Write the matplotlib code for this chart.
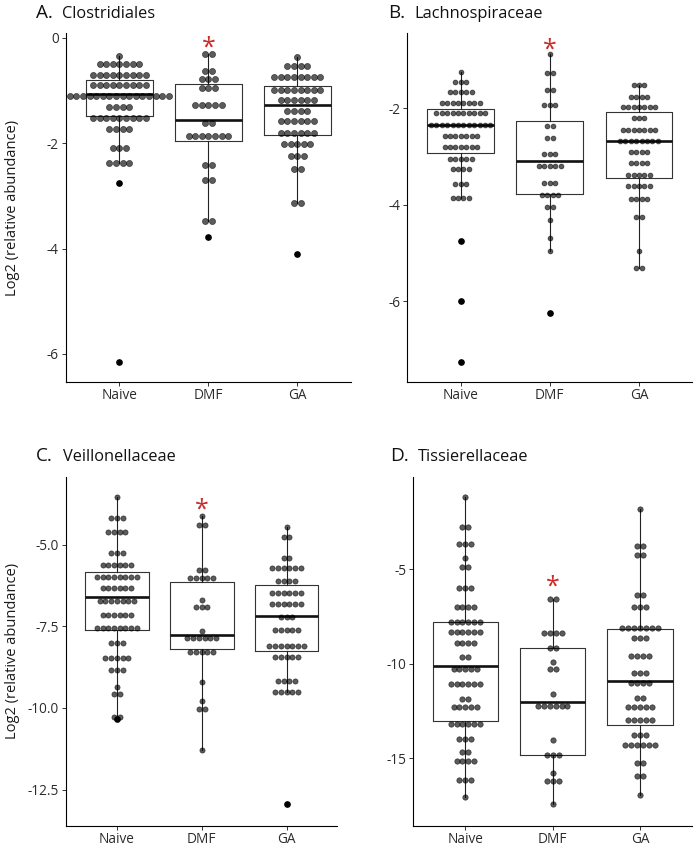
import matplotlib
matplotlib.use('Agg')
import matplotlib.pyplot as plt

plt.rcParams['font.family'] = ['Open Sans', 'DejaVu Sans']
plt.rcParams['axes.unicode_minus'] = False

W, H, DPI = 695, 847, 100
groups = ['Naive', 'DMF', 'GA']

# ---------------- Panel A: Clostridiales ----------------
A_naive_y = [-0.347, -0.49, -0.708, -0.90, -1.097, -1.319, -1.522, -1.742, -2.102, -2.372]
A_naive_n = [1, 7, 9, 9, 16, 4, 9, 4, 3, 4]
A_dmf_y = [-0.315, -0.626, -0.78, -0.96, -1.277, -1.62, -1.87, -2.415, -2.695, -3.48]
A_dmf_n = [2, 2, 3, 3, 5, 2, 7, 2, 2, 2]
A_ga_y = [-0.36, -0.53, -0.75, -1.00, -1.18, -1.39, -1.59, -1.80, -2.02, -2.25, -2.50, -3.13]
A_ga_n = [1, 4, 8, 8, 6, 4, 6, 6, 5, 3, 2, 2]
A_q1 = [-1.48, -1.96, -1.846]
A_med = [-1.06, -1.565, -1.285]
A_q3 = [-0.803, -0.879, -0.917]
A_lo = [-2.372, -3.48, -3.13]
A_hi = [-0.347, -0.315, -0.36]
A_out = [[-2.757, -6.154], [-3.78], [-4.10]]

# ---------------- Panel B: Lachnospiraceae ----------------
B_naive_y = [-1.247, -1.454, -1.662, -1.896, -2.104, -2.340, -2.581, -2.809, -3.052, -3.266, -3.577, -3.861]
B_naive_n = [1, 3, 5, 8, 10, 12, 7, 7, 5, 4, 3, 4]
B_dmf_y = [-0.873, -1.274, -1.620, -1.938, -2.361, -2.622, -2.954, -3.197, -3.556, -3.793, -4.054, -4.317, -4.697, -4.954]
B_dmf_n = [1, 2, 2, 3, 2, 2, 3, 5, 3, 4, 2, 1, 1, 1]
B_ga_y = [-1.523, -1.759, -1.979, -2.195, -2.450, -2.678, -2.900, -3.129, -3.390, -3.606, -3.882, -4.249, -4.954, -5.320]
B_ga_n = [3, 4, 7, 3, 7, 8, 4, 4, 5, 5, 4, 2, 1, 2]
B_q1 = [-2.934, -3.78, -3.45]
B_med = [-2.34, -3.10, -2.685]
B_q3 = [-2.021, -2.263, -2.083]
B_lo = [-3.861, -4.954, -5.320]
B_hi = [-1.247, -0.873, -1.523]
B_out = [[-4.755, -5.995, -7.261], [-6.241], []]

# ---------------- Panel C: Veillonellaceae ----------------
C_naive_y = [-3.529, -4.191, -4.611, -5.245, -5.631, -5.990, -6.317, -6.716, -7.163, -7.537, -8.021, -8.480, -8.830, -9.350, -9.574, -10.270]
C_naive_n = [1, 3, 4, 3, 6, 8, 6, 7, 6, 8, 3, 5, 3, 1, 2, 2]
C_dmf_y = [-4.130, -4.387, -5.775, -6.029, -6.694, -6.899, -7.635, -7.868, -8.278, -9.197, -9.779, -10.043, -11.281]
C_dmf_n = [1, 2, 2, 5, 1, 3, 1, 6, 5, 1, 1, 2, 1]
C_ga_y = [-4.467, -4.755, -5.398, -5.714, -6.112, -6.480, -6.817, -7.206, -7.613, -8.094, -8.431, -9.185, -9.513]
C_ga_n = [1, 2, 2, 6, 4, 6, 6, 3, 5, 7, 5, 4, 5]
C_q1 = [-7.613, -8.19, -8.26]
C_med = [-6.59, -7.76, -7.175]
C_q3 = [-5.827, -6.13, -6.24]
C_lo = [-10.270, -11.281, -9.513]
C_hi = [-3.529, -4.130, -4.467]
C_out = [[-10.349], [], [-12.953]]

# ---------------- Panel D: Tissierellaceae ----------------
D_naive_y = [-1.159, -2.762, -3.646, -4.402, -4.878, -5.989, -6.979, -7.815, -8.317, -8.884, -9.624, -10.275,
             -11.085, -11.878, -12.286, -13.185, -13.963, -14.667, -15.143, -16.148, -17.032]
D_naive_n = [1, 2, 3, 1, 2, 3, 4, 6, 6, 4, 2, 5, 6, 2, 5, 6, 3, 2, 4, 3, 1]
D_dmf_y = [-6.598, -8.354, -9.148, -9.905, -10.291, -11.614, -12.217, -14.032, -14.825, -15.762, -16.201, -17.418]
D_dmf_n = [2, 4, 2, 1, 2, 1, 6, 1, 3, 1, 3, 1]
D_ga_y = [-1.794, -3.767, -4.243, -6.376, -6.979, -8.122, -8.651, -9.571, -10.503, -11.032, -11.810, -12.286,
          -12.989, -13.751, -14.312, -15.233, -15.937, -16.942]
D_ga_n = [1, 2, 2, 2, 3, 7, 3, 4, 3, 4, 2, 5, 5, 3, 6, 2, 2, 1]
D_q1 = [-13.01, -14.83, -13.22]
D_med = [-10.10, -12.04, -10.89]
D_q3 = [-7.80, -9.18, -8.17]
D_lo = [-17.032, -17.418, -16.942]
D_hi = [-1.159, -6.598, -1.794]
D_out = [[], [], []]

# significance markers (DMF) and axis ticks
star_y = [-0.044, -0.618, -3.68, -5.51]
A_ticks = [0, -2, -4, -6]
B_ticks = [-2, -4, -6]
C_ticks = [-5.0, -7.5, -10.0, -12.5]
D_ticks = [-5, -10, -15]
letters = ['A.', 'B.', 'C.', 'D.']
titles = ['Clostridiales', 'Lachnospiraceae', 'Veillonellaceae', 'Tissierellaceae']

panels = [
    dict(rect=(65.9, 350.7, 33, 382), ylim=(-6.533, 0.089), ticks=A_ticks, fmt='{:g}',
         rows=[(A_naive_y, A_naive_n), (A_dmf_y, A_dmf_n), (A_ga_y, A_ga_n)],
         box=(A_q1, A_med, A_q3, A_lo, A_hi, A_out), d=6.6, ylabel=True,
         title_xy=(36, 62, 18)),
    dict(rect=(407.3, 692.4, 33, 382), ylim=(-7.678, -0.438), ticks=B_ticks, fmt='{:g}',
         rows=[(B_naive_y, B_naive_n), (B_dmf_y, B_dmf_n), (B_ga_y, B_ga_n)],
         box=(B_q1, B_med, B_q3, B_lo, B_hi, B_out), d=5.4, ylabel=False,
         title_xy=(388, 414, 18)),
    dict(rect=(66.0, 337.4, 476.7, 826), ylim=(-13.618, -2.917), ticks=C_ticks, fmt='{:.1f}',
         rows=[(C_naive_y, C_naive_n), (C_dmf_y, C_dmf_n), (C_ga_y, C_ga_n)],
         box=(C_q1, C_med, C_q3, C_lo, C_hi, C_out), d=5.7, ylabel=True,
         title_xy=(36, 63, 461)),
    dict(rect=(413.0, 692.3, 476.7, 826), ylim=(-18.582, -0.101), ticks=D_ticks, fmt='{:g}',
         rows=[(D_naive_y, D_naive_n), (D_dmf_y, D_dmf_n), (D_ga_y, D_ga_n)],
         box=(D_q1, D_med, D_q3, D_lo, D_hi, D_out), d=5.9, ylabel=False,
         title_xy=(390, 418, 461)),
]

fig = plt.figure(figsize=(W / DPI, H / DPI), dpi=DPI)
fig.patch.set_facecolor('white')

dot_rgba = (0, 0, 0, 0.64)
for pi, p in enumerate(panels):
    l, r, t, b = p['rect']
    ax = fig.add_axes([l / W, 1 - b / H, (r - l) / W, (b - t) / H])

    q1, med, q3, lo, hi, out = p['box']
    stats = [dict(q1=q1[i], med=med[i], q3=q3[i], whislo=lo[i], whishi=hi[i],
                  fliers=out[i]) for i in range(3)]
    ax.bxp(stats, positions=[0, 1, 2], widths=0.75, showcaps=False, manage_ticks=False,
           boxprops=dict(color='#333333', lw=0.8),
           whiskerprops=dict(color='#222222', lw=0.8),
           medianprops=dict(color='#111111', lw=1.9, solid_capstyle='butt'),
           flierprops=dict(marker='o', markerfacecolor='black', markeredgecolor='black',
                           markersize=3.8, linestyle='none'))

    ax.set_xlim(-0.6, 2.6)
    ax.set_ylim(*p['ylim'])
    for s in ['top', 'right']:
        ax.spines[s].set_visible(False)
    for s in ['left', 'bottom']:
        ax.spines[s].set_linewidth(0.8)
        ax.spines[s].set_color('black')
    ax.set_xticks(range(3))
    ax.set_xticklabels(groups)
    ax.set_yticks(p['ticks'])
    ax.set_yticklabels([p['fmt'].format(v) for v in p['ticks']])
    ax.tick_params(length=3, width=0.7, color='#333333', labelsize=9.8,
                   labelcolor='#2b2b2b', pad=2.0)
    ax.tick_params(axis='x', pad=1.5)

    # dot stacks (dotplot) centred on each group
    px_per_x = ax.transData.transform((1, 0))[0] - ax.transData.transform((0, 0))[0]
    d = p['d']
    dx = d / px_per_x
    size = ((d - 0.5) * 72 / DPI) ** 2
    for gi, (ys, ns) in enumerate(p['rows']):
        xs, yy = [], []
        for yv, n in zip(ys, ns):
            for k in range(n):
                xs.append(gi + (k - (n - 1) / 2) * dx)
                yy.append(yv)
        ax.scatter(xs, yy, s=size, facecolor=dot_rgba, edgecolor=dot_rgba,
                   linewidths=0.5, zorder=3)

    ax.annotate('*', xy=(1, star_y[pi]), xytext=(0, -10.5), textcoords='offset points',
                ha='center', va='baseline', color='#cc2b2b', fontsize=18, zorder=5)

    if p['ylabel']:
        ax.set_ylabel('Log2 (relative abundance)', fontsize=10.5, color='#1a1a1a')
        ax.yaxis.set_label_coords((5 - l) / (r - l), 0.5)
        ax.yaxis.label.set_verticalalignment('top')

    lx, nx, by = p['title_xy']
    fig.text(lx / W, 1 - by / H, letters[pi], fontsize=13.6, ha='left', va='baseline',
             color='#111111')
    fig.text(nx / W, 1 - by / H, titles[pi], fontsize=11.8, ha='left', va='baseline',
             color='#111111')

fig.savefig('out.png', dpi=DPI, facecolor='white')
